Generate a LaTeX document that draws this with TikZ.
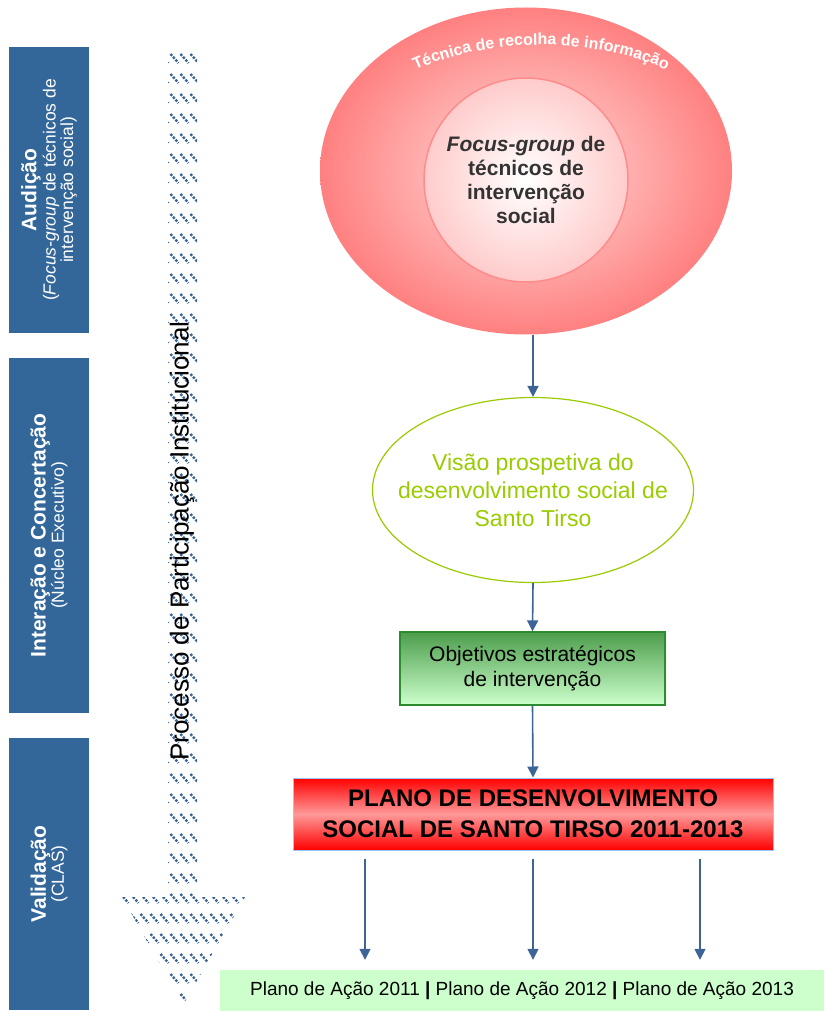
\documentclass[tikz,border=0pt]{standalone}
\usepackage{fontspec}
\setmainfont{Liberation Sans}
\usetikzlibrary{arrows.meta,patterns,decorations.text,shapes.geometric}
\definecolor{stageblue}{RGB}{51,102,153}
\definecolor{arrowblue}{RGB}{60,100,150}
\definecolor{focusred}{RGB}{255,128,128}
\definecolor{focuspale}{RGB}{255,222,222}
\definecolor{focusline}{RGB}{255,140,140}
\definecolor{visiongreen}{RGB}{153,204,0}
\definecolor{objgreen}{RGB}{45,140,45}
\definecolor{planmint}{RGB}{204,255,204}
\definecolor{planedge}{RGB}{150,200,255}
\pgfdeclarepatternformonly{dashrows}{\pgfqpoint{-1pt}{-1pt}}{\pgfqpoint{11pt}{21pt}}{\pgfqpoint{10pt}{20pt}}{
  \pgfsetlinewidth{2.4pt}
  \pgfsetdash{{2.4pt}{1.4pt}}{0pt}
  \pgfpathmoveto{\pgfqpoint{0.5pt}{17pt}}
  \pgfpathlineto{\pgfqpoint{8.5pt}{8pt}}
  \pgfusepath{stroke}}
\tikzset{
  stage/.style={fill=stageblue,text=white,rotate=90,align=center,minimum height=80pt,inner sep=0pt},
  linkarrow/.style={draw=arrowblue,line width=1.6pt,-{Triangle[length=11pt,width=11pt]}}
}
\begin{document}
\begin{tikzpicture}[x=1pt,y=1pt]
  \useasboundingbox (0,0) rectangle (824,-1011);
  % fases
  \node[stage,minimum width=286pt] (audicao) at (49,-190)
    {{\bfseries\fontsize{21}{24}\selectfont Audição}\\[1pt]
     {\fontsize{17.5}{21}\selectfont(\textit{Focus-group} de técnicos de}\\
     {\fontsize{17.5}{21}\selectfont intervenção social)}};
  \node[stage,minimum width=355pt] (interacao) at (49,-535.5)
    {{\bfseries\fontsize{21}{25}\selectfont Interação e Concertação}\\
     {\fontsize{17.5}{21}\selectfont(Núcleo Executivo)}};
  \node[stage,minimum width=272pt] (validacao) at (49,-874)
    {{\bfseries\fontsize{21}{25}\selectfont Validação}\\
     {\fontsize{17.5}{21}\selectfont(CLAS)}};
  % seta do processo
  \fill[pattern=dashrows,pattern color=arrowblue]
    (168,-45) -- (197,-45) -- (197,-897) -- (245,-897) -- (183,-1005)
    -- (122,-897) -- (168,-897) -- cycle;
  \node[rotate=90,font=\fontsize{26}{28}\selectfont] (processo) at (182,-541)
    {Processo de Participação Institucional};
  % tecnica
  \node[ellipse,minimum width=412pt,minimum height=327pt,shading=radial,
    inner color=focuspale,outer color=focusred] (tecnica) at (526,-171) {};
  \node[circle,minimum size=204pt,shading=radial,inner color=white,
    outer color=focuspale!80!focusred,draw=focusline,line width=1.5pt,
    align=center,text=black!80,font=\bfseries\fontsize{21}{24}\selectfont] (focus) at (526,-180)
    {\textit{Focus-group} de\\técnicos de\\intervenção\\social};
  \path[decorate,decoration={text along path,text align=center,
    text={|\bfseries\fontsize{16}{16}\selectfont\color{white}|Técnica de recolha de informação}}]
    ([xshift=15]tecnica.center) ++(160:210 and 126) arc[start angle=160,end angle=20,x radius=210,y radius=126];
  % visao
  \node[ellipse,minimum width=321pt,minimum height=185pt,draw=visiongreen,line width=1.2pt,
    fill=white,text=visiongreen,align=center,inner xsep=-22pt,font=\fontsize{23}{28}\selectfont] (visao) at (533,-490)
    {Visão prospetiva do\\desenvolvimento social de\\Santo Tirso};
  % objetivos
  \node[minimum width=265pt,minimum height=73pt,top color=objgreen!85,bottom color=planmint,
    draw=objgreen,line width=1.2pt,align=center,font=\fontsize{21}{25}\selectfont] (objetivos) at (532.5,-668.5)
    {Objetivos estratégicos\\de intervenção};
  % plano
  \node[minimum width=480pt,minimum height=72pt,top color=red,bottom color=red,
    middle color=red!40,draw=planedge,line width=1pt,align=center,
    font=\bfseries\fontsize{24}{31}\selectfont] (plano) at (533,-814)
    {PLANO DE DESENVOLVIMENTO\\SOCIAL DE SANTO TIRSO 2011-2013};
  \node[fill=planmint,minimum width=604pt,minimum height=41pt,inner sep=0pt,
    font=\fontsize{19}{21}\selectfont] (acoes) at (522,-990.5)
    {Plano de Ação 2011 \textbf{|} Plano de Ação 2012 \textbf{|} Plano de Ação 2013};
  % setas
  \draw[linkarrow] (visao.north |- tecnica.south) -- (visao.north);
  \draw[linkarrow] (visao.south) -- (objetivos.north);
  \draw[linkarrow] (objetivos.south) -- (plano.north);
  \foreach \dx in {-168,0,167}
    \draw[linkarrow,shorten >=18pt] ([xshift=\dx,yshift=-8]plano.south)
      -- ([xshift=\dx,yshift=-8]plano.south |- acoes.north);
\end{tikzpicture}
\end{document}
